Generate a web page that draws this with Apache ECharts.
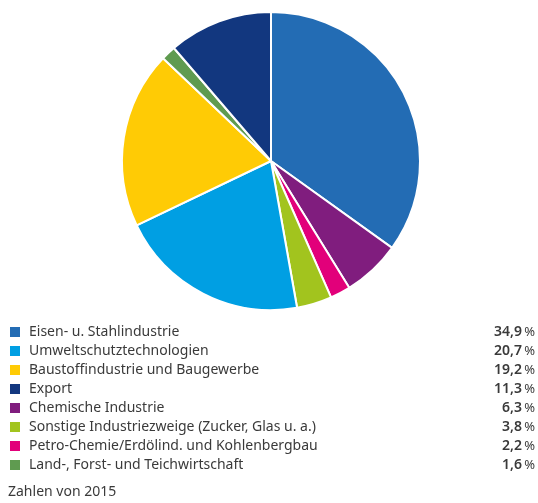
<!DOCTYPE html>
<html>
<head>
<meta charset="utf-8">
<script src="https://cdn.jsdelivr.net/npm/echarts@6/dist/echarts.min.js"></script>
<style>
  html, body { margin: 0; padding: 0; background: #fff; }
  #chart { width: 538px; height: 503px; }
</style>
</head>
<body>
<div id="chart"></div>
<script>
// Sectors in clockwise order starting at 12 o'clock
const categories = [
  'Eisen- u. Stahlindustrie',
  'Chemische Industrie',
  'Petro-Chemie/Erdölind. und Kohlenbergbau',
  'Sonstige Industriezweige (Zucker, Glas u. a.)',
  'Umweltschutztechnologien',
  'Baustoffindustrie und Baugewerbe',
  'Land-, Forst- und Teichwirtschaft',
  'Export'
];
const shares = [34.9, 6.3, 2.2, 3.8, 20.7, 19.2, 1.6, 11.3];
const colors = ['#236cb4', '#801d7e', '#e2007a', '#a2c41e', '#009fe3', '#ffcb05', '#5f9b50', '#12377f'];

// Legend lists the sectors by size
const legendOrder = [
  'Eisen- u. Stahlindustrie',
  'Umweltschutztechnologien',
  'Baustoffindustrie und Baugewerbe',
  'Export',
  'Chemische Industrie',
  'Sonstige Industriezweige (Zucker, Glas u. a.)',
  'Petro-Chemie/Erdölind. und Kohlenbergbau',
  'Land-, Forst- und Teichwirtschaft'
];
const footnote = 'Zahlen von 2015';

const fontFamily = '"Noto Sans", sans-serif';
const textColor = '#3a3a3a';

const fmtNum = v => v.toFixed(1).replace('.', ',');

const chart = echarts.init(document.getElementById('chart'), null, { renderer: 'canvas' });
chart.setOption({
  animation: false,
  color: colors,
  legend: {
    data: legendOrder,
    orient: 'vertical',
    left: 8,
    top: 325,
    padding: 0,
    icon: 'rect',
    itemWidth: 12,
    itemHeight: 12,
    itemGap: 5,
    selectedMode: false,
    formatter: name => {
      const v = shares[categories.indexOf(name)];
      return '{n|' + name + '}{v|' + fmtNum(v) + '}{p|%}';
    },
    textStyle: {
      fontFamily: fontFamily,
      color: textColor,
      rich: {
        n: { fontFamily: fontFamily, fontSize: 14, color: textColor, width: 456, height: 14, padding: [0, 0, 0, 3] },
        v: { fontFamily: fontFamily, fontSize: 14, fontWeight: 600, color: textColor, width: 37, height: 14, align: 'right', padding: [0, 3, 0, 0] },
        p: { fontFamily: fontFamily, fontSize: 13, color: textColor, width: 10, height: 14, align: 'right' }
      }
    }
  },
  title: {
    text: footnote,
    left: 8,
    top: 485,
    padding: 0,
    textStyle: { fontFamily: fontFamily, fontSize: 14, fontWeight: 'normal', color: textColor }
  },
  series: [{
    type: 'pie',
    center: [271, 161],
    radius: [0, 149],
    startAngle: 90,
    clockwise: true,
    label: { show: false },
    labelLine: { show: false },
    emphasis: { disabled: true },
    itemStyle: { borderColor: '#ffffff', borderWidth: 2 },
    data: categories.map((name, i) => ({ name: name, value: shares[i] }))
  }]
});
</script>
</body>
</html>
